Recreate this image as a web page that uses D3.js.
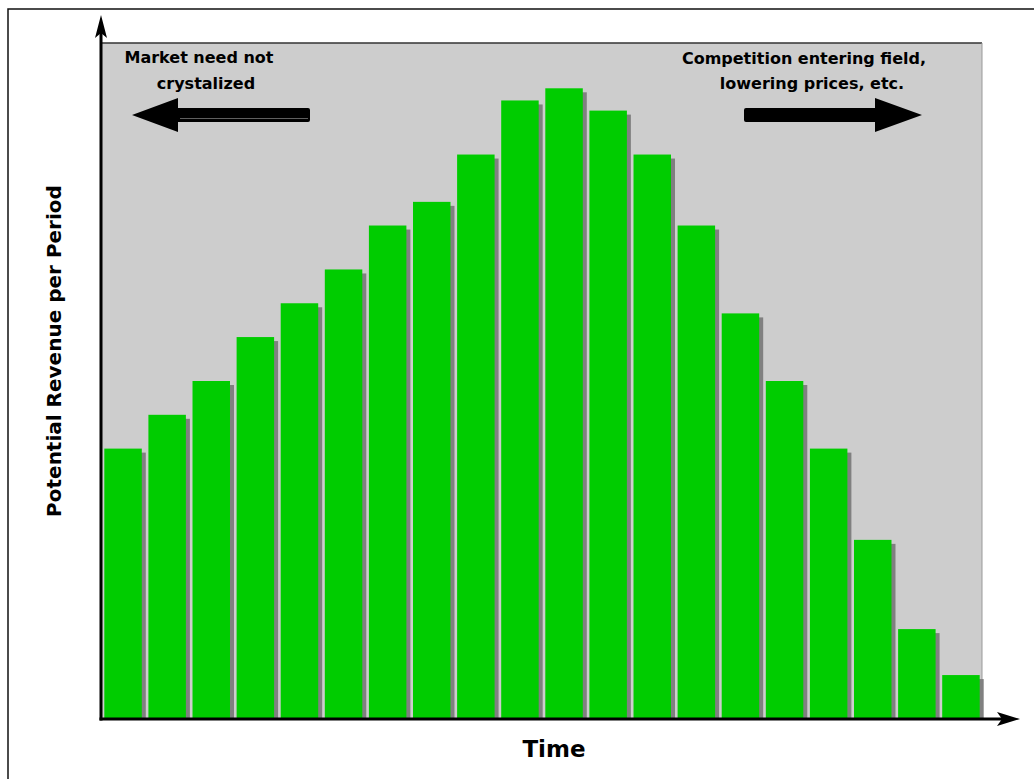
<!DOCTYPE html>
<html>
<head>
<meta charset="utf-8">
<script src="https://cdn.jsdelivr.net/npm/d3@7"></script>
<style>
  html, body { margin: 0; padding: 0; background: #fff; }
  svg { display: block; }
  text { font-family: "DejaVu Sans", Verdana, sans-serif; font-weight: bold; fill: #000; }
</style>
</head>
<body>
<svg id="chart" width="1034" height="779"></svg>
<script>
// Periods along the time axis
const periods = d3.range(1, 21).map(String);
// Potential revenue per period (relative units)
const revenue = [40, 45, 50, 56.5, 61.5, 66.5, 73, 76.5, 83.5, 91.5,
                 93.3, 90, 83.5, 73, 60, 50, 40, 26.5, 13.3, 6.5];
const yLabel = "Potential Revenue per Period";
const xLabel = "Time";
const leftNote = ["Market need not", "crystalized"];
const rightNote = ["Competition entering field,", "lowering prices, etc."];

const svg = d3.select("#chart");
const plot = { left: 101, right: 982, top: 43, bottom: 719 };

const x = d3.scaleBand()
  .domain(periods)
  .range([plot.left, plot.right + 1])
  .paddingInner(0.15)
  .paddingOuter(0.075);

const y = d3.scaleLinear()
  .domain([0, 100])
  .range([plot.bottom, plot.top]);

// Outer frame
svg.append("rect")
  .attr("x", 8).attr("y", 9)
  .attr("width", 1040).attr("height", 790)
  .attr("fill", "none").attr("stroke", "#111").attr("stroke-width", 1.5);

// Plot background
svg.append("rect")
  .attr("x", plot.left).attr("y", plot.top)
  .attr("width", plot.right - plot.left).attr("height", plot.bottom - plot.top)
  .attr("fill", "#cdcdcd");
svg.append("line")
  .attr("x1", plot.left).attr("x2", plot.right)
  .attr("y1", plot.top).attr("y2", plot.top)
  .attr("stroke", "#333").attr("stroke-width", 1.5);
svg.append("line")
  .attr("x1", plot.right).attr("x2", plot.right)
  .attr("y1", plot.top).attr("y2", plot.bottom)
  .attr("stroke", "#999").attr("stroke-width", 1);

const data = periods.map((p, i) => ({ p, v: revenue[i] }));
const shadow = 4;

// Drop shadows
svg.append("g").selectAll("rect").data(data).join("rect")
  .attr("x", d => x(d.p) + shadow)
  .attr("y", d => y(d.v) + shadow)
  .attr("width", x.bandwidth())
  .attr("height", d => y(0) - y(d.v) - shadow)
  .attr("fill", "#808080");

// Bars
svg.append("g").selectAll("rect").data(data).join("rect")
  .attr("x", d => x(d.p))
  .attr("y", d => y(d.v))
  .attr("width", x.bandwidth())
  .attr("height", d => y(0) - y(d.v))
  .attr("fill", "#00cc00");

// Axes with arrowheads
svg.append("line")
  .attr("x1", plot.left).attr("x2", plot.left)
  .attr("y1", plot.bottom + 1.5).attr("y2", 30)
  .attr("stroke", "#000").attr("stroke-width", 3);
svg.append("path")
  .attr("d", `M${plot.left},15 L${plot.left + 6},38 L${plot.left},33 L${plot.left - 6},38 Z`)
  .attr("fill", "#000");

svg.append("line")
  .attr("x1", plot.left - 1.5).attr("x2", 1006)
  .attr("y1", plot.bottom).attr("y2", plot.bottom)
  .attr("stroke", "#000").attr("stroke-width", 3);
svg.append("path")
  .attr("d", `M1020,${plot.bottom} L997,${plot.bottom + 7} L1002,${plot.bottom} L997,${plot.bottom - 7} Z`)
  .attr("fill", "#000");

// Axis titles
svg.append("text")
  .attr("transform", "translate(61,351) rotate(-90)")
  .attr("text-anchor", "middle")
  .attr("font-size", 20)
  .text(yLabel);

svg.append("text")
  .attr("x", 554).attr("y", 757)
  .attr("text-anchor", "middle")
  .attr("font-size", 23)
  .text(xLabel);

// Annotations
const notes = svg.append("g").attr("font-size", 16).attr("text-anchor", "middle");
notes.append("text").attr("x", 199).attr("y", 63).text(leftNote[0]);
notes.append("text").attr("x", 206).attr("y", 89).text(leftNote[1]);
notes.append("text").attr("x", 804).attr("y", 64).text(rightNote[0]);
notes.append("text").attr("x", 812).attr("y", 89).text(rightNote[1]);

// Direction arrows
function arrow(tipX, backX, tailX, cy) {
  const dir = Math.sign(tipX - tailX);
  const r = 2;
  return `M${tipX},${cy}
    L${backX},${cy - 17}
    L${backX},${cy - 7}
    L${tailX + dir * r},${cy - 7}
    Q${tailX},${cy - 7} ${tailX},${cy - 7 + r}
    L${tailX},${cy + 7 - r}
    Q${tailX},${cy + 7} ${tailX + dir * r},${cy + 7}
    L${backX},${cy + 7}
    L${backX},${cy + 17} Z`;
}
svg.append("path").attr("d", arrow(132, 178, 310, 115)).attr("fill", "#000");
svg.append("line")
  .attr("x1", 180).attr("x2", 308).attr("y1", 118.5).attr("y2", 118.5)
  .attr("stroke", "#777").attr("stroke-width", 0.8);
svg.append("path").attr("d", arrow(922, 875, 744, 115)).attr("fill", "#000");
</script>
</body>
</html>
